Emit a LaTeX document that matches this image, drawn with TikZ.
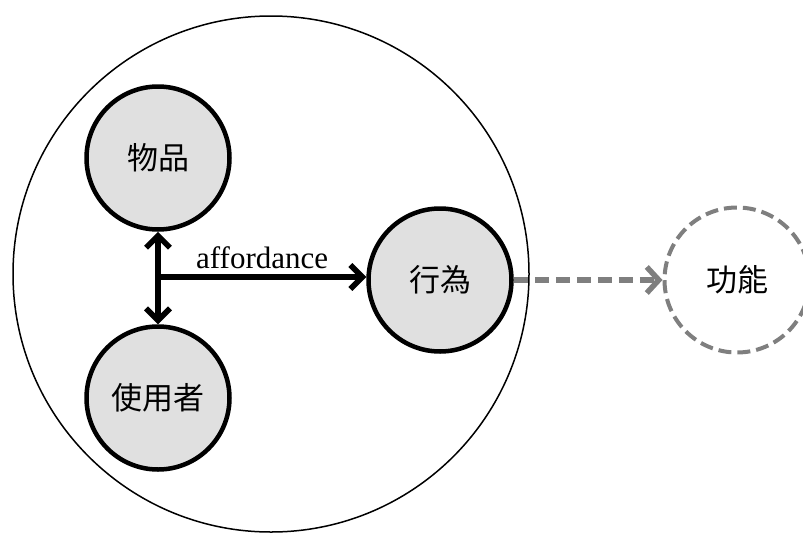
\documentclass[tikz,border=0pt]{standalone}
\usepackage{fontspec}
\setmainfont{Liberation Serif}
\newfontfamily\cjk{Noto Sans CJK TC}
\usetikzlibrary{arrows.meta}
\definecolor{nodefill}{HTML}{E0E0E0}
\definecolor{dashgray}{HTML}{7F7F7F}
\tikzset{
  smallnode/.style={circle, draw=black, line width=4.5pt, fill=nodefill, minimum size=143pt, inner sep=0pt, font=\cjk\fontsize{31}{36}\selectfont},
  dashnode/.style={circle, draw=dashgray, line width=4pt, dash pattern=on 13pt off 6pt, minimum size=145pt, inner sep=0pt, font=\cjk\fontsize{31}{36}\selectfont},
  bigcircle/.style={circle, draw=black, line width=1.5pt, minimum size=516pt, inner sep=0pt},
  blackarrow/.style={line width=5.5pt, -{Straight Barb[length=12pt, width=24pt, line width=5.5pt]}, line cap=round},
  grayarrow/.style={draw=dashgray, line width=6pt, dash pattern=on 14pt off 7pt, -{Straight Barb[length=12pt, width=26pt, line width=5.5pt]}},
}
\begin{document}
\begin{tikzpicture}[x=1pt, y=-1pt]
\useasboundingbox (0,0) rectangle (803,533);
\begin{scope}
\clip (0,0) rectangle (803,533);
\node[bigcircle] (big) at (271,274) {};
\node[smallnode] (obj) at (158,158) {物品};
\node[smallnode] (user) at (158,398) {使用者};
\node[smallnode] (act) at (440,280) {行為};
\node[dashnode] (func) at (737,280) {功能};
\coordinate (j) at (158,277);
\draw[blackarrow] (j) -- (obj.south);
\draw[blackarrow] (j) -- (user.north);
\draw[blackarrow] (j) -- (j -| act.west) node[midway, above=2pt, font=\fontsize{31}{36}\selectfont] (aff) {affordance};
\draw[grayarrow] (act.east) -- (func.west);
\end{scope}
\end{tikzpicture}
\end{document}
